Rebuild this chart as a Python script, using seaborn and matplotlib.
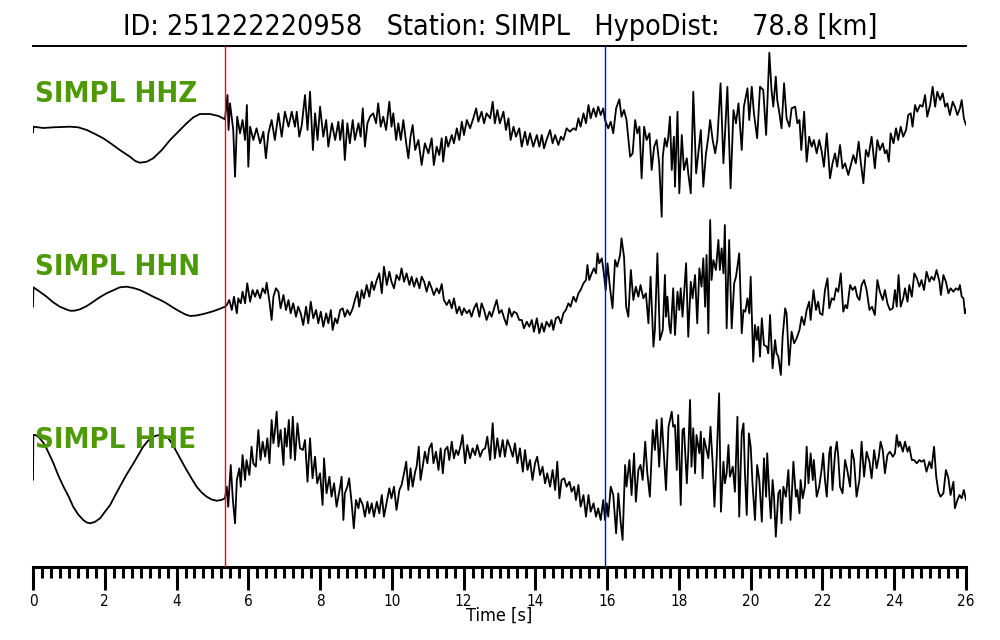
import numpy as np
import pandas as pd
import matplotlib
matplotlib.use("Agg")
import matplotlib.pyplot as plt
from matplotlib.ticker import MultipleLocator
import seaborn as sns

# ---------------- data ----------------
title_text = "ID: 251222220958   Station: SIMPL   HypoDist:    78.8 [km]"
channels = ["SIMPL HHZ", "SIMPL HHN", "SIMPL HHE"]
p_pick = 5.36   # s
s_pick = 15.93  # s
x_max = 26
major_step = 2
minor_step = 0.25

# (time [s], amplitude [arb.])
hhz = [(0.00,-2.7),(0.01,3.3),(0.29,2.0),(0.57,2.7),(1.03,3.3),(1.26,2.7),(1.50,0.0),(1.73,-4.0),(1.96,-8.3),
       (2.19,-14.0),(2.42,-20.0),(2.70,-26.7),(2.85,-31.0),(2.98,-32.7),(3.17,-31.7),(3.35,-28.3),(3.59,-20.0),
       (3.82,-10.0),(4.05,-1.7),(4.28,6.7),(4.47,12.7),(4.65,16.0),(4.93,16.0),(5.17,14.0),(5.35,10.7),
       (5.42,35),(5.45,0),(5.49,26.7),(5.58,0),(5.63,-46.7),(5.69,13.3),(5.77,-3.3),(5.84,10),(5.91,-10),(5.96,25),
       (6.00,-36.7),(6.05,3.3),(6.14,-10),(6.23,1.7),(6.33,-13.3),(6.42,-1.7),(6.49,-28.3),(6.56,-3.3),(6.65,10),
       (6.74,-10),(6.84,16.7),(6.93,-6.7),(7.02,18.3),(7.12,3.3),(7.21,18.3),(7.30,3.3),(7.35,18.3),(7.42,-6.7),
       (7.49,5),(7.58,35),(7.65,0),(7.72,38.3),(7.80,-20),(7.86,16.7),(7.93,-10),(8.00,23.3),(8.09,-6.7),(8.17,10),
       (8.23,-16.7),(8.33,6.7),(8.42,-10),(8.51,8.3),
       (8.56,-10),(8.63,10),(8.69,-30),(8.76,6.7),(8.83,-13.3),(8.91,10),(8.97,-10),(9.07,6.7),(9.13,-6.7),(9.19,21.7),
       (9.25,-16.7),(9.32,6.7),(9.39,13.3),(9.48,16.7),(9.56,6.7),(9.62,26.7),(9.69,3.3),(9.76,13.3),(9.84,0),
       (9.93,28.3),(9.99,3.3),(10.04,16.7),(10.12,-10),(10.18,6.7),(10.25,-10),(10.32,10),(10.40,-13.3),(10.46,-28.3),
       (10.52,-6.7),(10.58,5),(10.65,-20),(10.74,-10),(10.83,-35),(10.92,-13.3),(11.02,-23.3),(11.11,-8.3),
       (11.17,-35),(11.25,-16.7),(11.32,-25),(11.39,-8.3),(11.43,-31.7),(11.51,-6.7),(11.57,-16.7),(11.67,-5),
       (11.73,-13.3),(11.81,1.7),(11.88,-10),(11.95,8.3),(12.01,-5),(12.09,10),(12.18,1.7),(12.27,11.7),(12.35,21.7),
       (12.41,8.3),(12.50,18.3),(12.57,6.7),(12.64,16.7),(12.74,11.7),(12.81,28.3),(12.87,6.7),(12.94,20),(13.01,6.7),
       (13.11,18.3),(13.18,0),(13.25,11.7),(13.31,-10),(13.39,3.3),(13.46,-6.7),(13.55,1.7),(13.62,-16.7),
       (13.71,-1.7),(13.78,-15),(13.85,-3.3),(13.94,-16.7),(14.04,-5),(14.11,-16.7),(14.18,-5),(14.24,-18.3),
       (14.31,-10),(14.41,0),(14.48,-13.3),(14.55,-5),(14.64,-15),(14.71,-6.7),(14.78,-10),(14.87,1.7),(14.96,-1.7),
       (15.06,1.7),(15.13,0),(15.20,11.7),(15.26,3.3),(15.34,16.7),(15.41,6.7),(15.48,25),(15.54,11.7),(15.62,21.7),
       (15.69,13.3),(15.75,23.3),(15.82,15),(15.89,21.7),(15.94,10),(16.03,1.7),(16.10,8.3),(16.17,-3.3),(16.25,21.7),
       (16.34,30.7),(16.40,13.3),(16.47,20),(16.54,10),(16.59,-8.3),(16.64,-26.7),(16.71,-23.3),(16.78,10),
       (16.84,-3.3),(16.90,3.3),(16.96,-48.3),(17.03,3.3),(17.10,-10),(17.18,-3.3),(17.24,-40),(17.31,-16.7),
       (17.38,-10),(17.45,-33.3),(17.52,-86.7),
       (17.55,-26.7),(17.61,-8.3),(17.66,-16.7),(17.70,-8.3),(17.75,13.3),(17.80,-40),(17.86,-6.7),(17.89,-56.7),
       (17.96,18.3),(18.01,-63.3),(18.08,-5),(18.14,-40),(18.22,-28.3),(18.26,-43.3),(18.33,-63.3),(18.40,38.3),
       (18.48,-43.3),(18.54,-23.3),(18.61,0),(18.68,-56.7),(18.75,-25),(18.82,-6.7),(18.87,10),(18.94,-10),
       (19.01,-23.3),(19.07,-10),(19.16,46.7),(19.24,-33.3),(19.28,-6.7),(19.35,43.3),(19.44,-58.3),(19.52,20),
       (19.59,6.7),(19.66,26.7),(19.75,-20),(19.81,23.3),(19.91,41.7),(19.96,10),(20.03,43.3),(20.09,16.7),
       (20.18,-8.3),(20.26,43.3),(20.35,40),(20.43,-5),(20.52,77.3),(20.58,40),(20.63,23.3),(20.70,53.3),(20.74,30),
       (20.80,16.7),(20.86,1.7),(20.93,46.7),(21.00,11.7),(21.08,3.3),(21.14,21.7),(21.24,23.3),(21.30,6.7),
       (21.36,10),(21.41,-20),(21.49,18.3),(21.56,-31.7),(21.63,-6.7),(21.70,-16.7),(21.76,-10),(21.84,-23.3),
       (21.91,-10),(21.98,-21.7),(22.04,-36.7),(22.12,-3.3),(22.21,-48.3),(22.28,-33.3),(22.35,-23.3),(22.41,-36.7),
       (22.49,-15),(22.56,-38.3),(22.63,-33.3),(22.72,-45),(22.79,-35),(22.86,-25),(22.93,-33.3),(23.01,-11.7),
       (23.06,-30),(23.14,-53.3),(23.21,-20),(23.28,-26.7),(23.37,-6.7),(23.46,-38.3),(23.53,-10),(23.60,-20),
       (23.68,-13.3),(23.74,-23.3),(23.79,-20),(23.85,-31.7),(23.90,-3.3),(23.98,-13.3),(24.05,1.7),(24.11,-10),
       (24.18,3.3),(24.25,-6.7),(24.33,0),(24.39,15),(24.46,16.7),(24.51,3.3),(24.58,25),(24.64,18.3),(24.72,25),
       (24.79,23.3),(24.86,35),(24.92,13.3),(25.00,25),(25.07,43.3),(25.14,23.3),(25.20,38.3),(25.28,30),
       (25.35,36.7),(25.42,23.3),(25.48,26.7),(25.55,15),(25.63,28.3),(25.69,23.3),(25.76,15),(25.83,21.7),
       (25.88,30),(25.94,11.7),(26.00,5)]

hhn = [(0.00,-6.7),(0.01,12.7),(0.20,8.0),(0.38,3.3),(0.55,-2.0),(0.75,-6.7),(0.90,-9.0),(1.03,-10.7),(1.15,-10.7),
       (1.31,-9.3),(1.50,-6.0),(1.68,-1.7),(1.85,2.5),(2.05,6.7),(2.25,10.0),(2.42,12.7),(2.61,13.3),(2.80,12.0),
       (2.98,10.0),(3.15,7.0),(3.35,3.3),(3.55,0.0),(3.72,-3.3),(3.90,-7.5),(4.10,-11.7),(4.25,-14.5),(4.38,-16.0),
       (4.55,-15.5),(4.75,-14.0),(4.95,-12.0),(5.12,-10.0),(5.35,-6.7),
       (5.40,-5),(5.47,0),(5.54,-10),(5.60,3.3),(5.68,-13.3),(5.72,1.7),(5.79,-3.3),(5.84,8.3),(5.91,-3.3),
       (5.97,16.7),(6.05,-1.7),(6.12,10),(6.19,3.3),(6.25,10),(6.33,1.7),(6.40,11.7),(6.47,6.7),(6.51,17.3),
       (6.59,-1.7),(6.65,-20),(6.70,3.3),(6.77,11.7),(6.84,8.3),(6.90,-8.3),(6.98,5),(7.05,-10),(7.12,0),(7.18,-13.3),
       (7.25,-3.3),(7.33,-16.7),(7.39,-6.7),(7.46,-13.3),(7.53,-25),(7.61,-6.7),(7.67,-23.3),(7.74,-1.7),(7.81,-18.3),
       (7.89,-10),(7.95,-23.3),(8.02,-11.7),(8.09,-26.7),(8.17,-13.3),(8.23,-23.3),(8.30,-10),(8.35,-30),(8.42,-18.3),
       (8.48,-23.3),
       (8.56,-10),(8.63,-8.3),(8.69,-16.7),(8.76,-10),(8.83,-15),(8.91,-8.3),(8.97,0),(9.04,8.3),(9.09,-6.7),(9.16,10),
       (9.22,1.7),(9.30,15),(9.37,3.3),(9.44,18.3),(9.50,10),(9.58,20),(9.65,26.7),(9.72,6.7),(9.78,33.3),(9.86,15),
       (9.93,28.3),(9.99,18.3),(10.06,11.7),(10.13,25),(10.21,20),(10.27,31.7),(10.34,18.3),(10.41,26.7),(10.49,15),
       (10.55,23.3),(10.62,13.3),(10.69,21.7),(10.77,11.7),(10.83,23.3),(10.90,18.3),(10.97,8.3),(11.04,18.3),
       (11.11,11.7),(11.17,5),(11.25,11.7),(11.32,6.7),(11.39,16),(11.45,0),(11.53,-5),(11.60,0),(11.67,-8.3),
       (11.73,1.7),(11.81,-13.3),(11.88,-6.7),(11.95,-15),(12.01,-8.3),(12.09,-13.3),(12.16,-10),(12.22,-16.7),
       (12.29,-8.3),(12.36,-3.3),(12.44,-16.7),(12.50,-3.3),(12.57,-10),(12.64,-20),(12.72,-11.7),(12.78,-16.7),
       (12.85,-8.3),(12.92,0),(12.99,-13.3),(13.06,-10),(13.13,-18.3),(13.20,-25),(13.27,-8.3),(13.34,-16.7),
       (13.40,-11.7),(13.48,-13.3),(13.55,-20),(13.62,-20),(13.68,-28.3),(13.76,-21.7),(13.83,-26.7),(13.90,-20),
       (13.96,-31.7),(14.04,-18.3),(14.11,-33.3),(14.18,-23.3),(14.24,-31.7),(14.31,-21.7),(14.39,-26.7),(14.45,-20),
       (14.50,-30),(14.57,-18.3),(14.64,-16.7),(14.71,-23.3),(14.78,-13.3),(14.85,-10),(14.92,-3.3),(14.98,-6.7),
       (15.06,3.3),(15.13,-1.7),(15.20,6.7),(15.26,10),(15.34,16.7),(15.41,20),(15.45,35),(15.50,20),(15.57,26.7),
       (15.63,31.7),(15.69,26.7),(15.73,46.7),(15.78,36.7),(15.85,41.7),(15.89,31.7),(15.96,10),(16.01,36.7),
       (16.08,11.7),(16.15,-8.3),(16.22,40),(16.28,33.3),(16.36,45),(16.40,61.7),(16.47,43.3),(16.53,-6.7),
       (16.59,-16.7),(16.66,30),(16.73,0),(16.80,13.3),(16.87,3.3),(16.93,15),(17.01,1.7),(17.08,6.7),(17.15,-23.3),
       (17.21,23.3),(17.29,-46.7),(17.33,-30),(17.40,46.7),(17.47,-40),(17.55,-30),(17.61,25),
       (17.64,-16.7),(17.68,3.3),(17.73,-25),(17.77,-33.3),(17.84,11.7),(17.89,-35),(17.96,8.3),(18.01,-10),
       (18.05,11.7),(18.10,-16.7),(18.14,5),(18.20,36.7),(18.26,-36.7),(18.33,18.3),(18.38,1.7),(18.45,25),
       (18.51,-23.3),(18.57,31.7),(18.63,13.3),(18.68,41.7),(18.73,-6.7),(18.77,45),(18.82,-33.3),(18.87,80),
       (18.91,20),(18.96,40),(19.03,30),(19.10,60),(19.14,30),(19.19,51.7),(19.24,26.7),(19.28,75),(19.33,-28.3),
       (19.40,60),(19.47,-28.3),(19.54,16.7),(19.59,23.3),(19.63,33.3),(19.68,46.7),(19.75,-33.3),(19.80,-10),
       (19.85,-11.7),(19.91,1.7),(19.96,-13.3),(20.00,23.3),(20.07,-61.7),(20.12,-25),(20.17,-40),(20.21,-26.7),
       (20.26,-56.7),(20.31,-18.3),(20.37,-45),(20.45,-46.7),(20.49,-53.3),(20.54,-15),(20.61,-68.3),(20.68,-40),
       (20.72,-53.3),(20.77,-56.7),(20.84,-75),(20.89,-36.7),(20.96,-8.3),(21.00,-13.3),(21.07,-65),(21.14,-31.7),
       (21.21,-43.3),(21.28,-38.3),(21.36,-30),(21.42,-16.7),(21.49,-25),(21.56,-10),(21.63,-1.7),(21.67,-20),
       (21.75,10),(21.82,-10),(21.88,-1.7),(21.93,-13.3),(22.00,-15),(22.07,10),(22.14,21.7),(22.19,-8.3),
       (22.26,1.7),(22.32,0),(22.38,11.7),(22.44,8.3),(22.51,26.7),(22.58,-11.7),(22.64,-5),(22.69,-8.3),
       (22.77,15),(22.84,10),(22.91,13.3),(22.97,3.3),(23.03,0),(23.09,15),(23.16,20),(23.23,10),(23.31,-10),
       (23.38,-6.7),(23.46,-15),(23.53,20),(23.60,8.3),(23.68,0),(23.74,10),(23.81,-3.3),(23.88,-10),(23.96,-8.3),
       (24.02,10),(24.07,-6.7),(24.12,25),(24.18,-6.7),(24.25,1.7),(24.30,11.7),(24.37,-1.7),(24.42,15),(24.49,3.3),
       (24.56,26.7),(24.63,21.7),(24.70,13.3),(24.76,20),(24.83,10),(24.90,28.3),(24.98,18.3),(25.04,23.3),
       (25.11,20),(25.18,30),(25.26,18.3),(25.30,5),(25.37,25),(25.44,18.3),(25.51,6.7),(25.57,11.7),(25.65,8.3),
       (25.72,11.7),(25.79,10),(25.83,15),(25.88,3.3),(25.93,1.7),(25.97,-13.3),(26.00,-9.3)]

hhe = [(0.00,-10),(0.01,35),(0.06,35),(0.12,34),(0.19,31.7),(0.25,29),(0.33,25),(0.45,16),(0.57,6.7),(0.70,-5),
       (0.85,-16.7),(1.00,-27),(1.12,-36.7),(1.25,-44),(1.40,-50),(1.50,-52.5),(1.59,-53.3),(1.72,-52),(1.87,-48.3),
       (2.00,-42),(2.15,-35),(2.28,-26),(2.42,-16.7),(2.60,-5),(2.80,6.7),(2.95,16),(3.07,23.3),(3.20,29),
       (3.35,33.3),(3.45,34.5),(3.54,35),(3.65,34),(3.77,31.7),(3.88,26),(4.00,18.3),(4.14,9),(4.28,0),(4.42,-8.5),
       (4.56,-16.7),(4.70,-22.5),(4.84,-26.7),(4.98,-29.5),(5.12,-30.7),(5.25,-30),(5.35,-28.3),
       (5.40,-16.7),(5.44,-36.7),(5.51,5),(5.57,-30),(5.63,-53.3),(5.68,-10),(5.75,1.7),(5.79,-16.7),(5.84,15),
       (5.91,-10),(5.95,10),(6.03,-5),(6.09,23.3),(6.14,6.7),(6.21,3.3),(6.28,40),(6.34,10),(6.40,28.3),(6.47,13.3),
       (6.53,31.7),(6.59,6.7),(6.65,50),(6.70,26.7),(6.74,38.3),(6.79,58.3),(6.84,23.3),(6.90,40),(6.98,5),(7.02,41.7),
       (7.07,23.3),(7.13,50),(7.18,11.7),(7.24,53.3),(7.30,10),(7.37,46.7),(7.44,21.7),(7.52,20),(7.58,30),
       (7.65,-11.7),(7.72,31.7),(7.79,-8.3),(7.86,13.3),(7.92,-13.3),(8.00,-3.3),(8.07,-35),(8.11,11.7),(8.18,-23.3),
       (8.26,-6.7),(8.32,-26.7),(8.39,-13.3),(8.46,-36.7),
       (8.56,-16.7),(8.60,-6.7),(8.65,-50),(8.69,-23.3),(8.76,-16.7),(8.81,-8.3),(8.88,-33.3),(8.94,-58.3),(9.00,-30),
       (9.07,-38.3),(9.11,-28.3),(9.19,-35),(9.25,-46.7),(9.32,-31.7),(9.37,-43.3),(9.44,-33.3),(9.50,-46.7),
       (9.58,-31.7),(9.65,-43.3),(9.72,-25),(9.78,-46.7),(9.86,-31.7),(9.93,-18.3),(9.99,-28.3),(10.06,-16.7),
       (10.13,-40),(10.21,-20),(10.27,-15),(10.34,-3.3),(10.40,8.3),(10.46,-20),(10.52,1.7),(10.58,-16.7),
       (10.65,-1.7),(10.69,3.3),(10.75,23.3),(10.80,-10),(10.86,3.3),(10.92,18.3),(10.99,6.7),(11.04,21.7),
       (11.11,26.7),(11.16,6.7),(11.23,18.3),(11.30,0),(11.36,21.7),(11.42,-3.3),(11.48,20),(11.55,23.3),(11.60,10),
       (11.67,28.3),(11.73,11.7),(11.79,20),(11.85,15),(11.92,25),(11.97,35),(12.04,6.7),(12.10,25),(12.18,11.7),
       (12.25,21.7),(12.32,15),(12.38,25),(12.46,13.3),(12.53,20),(12.60,21.7),(12.66,33.3),(12.74,10),(12.81,46.7),
       (12.87,11.7),(12.94,31.7),(13.01,13.3),(13.09,30),(13.15,13.3),(13.22,30),(13.29,23.3),(13.37,13.3),
       (13.43,26.7),(13.50,6.7),(13.57,21.7),(13.65,-1.7),(13.71,20),(13.78,0),(13.85,10),(13.92,-10),(13.99,6.7),
       (14.05,13.3),(14.13,-5),(14.20,3.3),(14.27,-13.3),(14.33,-3.3),(14.41,-16.7),(14.48,0),(14.55,-20),(14.61,8.3),
       (14.67,-28.3),(14.73,-10),(14.80,-8.3),(14.87,-16.7),(14.95,-11.7),(15.01,-21.7),(15.08,-16.7),(15.13,-30),
       (15.20,-15),(15.26,-36.7),(15.34,-25),(15.41,-46.7),(15.48,-25),(15.54,-41.7),(15.62,-33.3),(15.69,-46.7),
       (15.75,-38.3),(15.82,-50),(15.89,-30),(15.94,-50),(15.99,-33.3),(16.03,-46.7),(16.10,-16.7),(16.17,-25),
       (16.25,-63.3),(16.31,-23.3),(16.38,-53.3),(16.43,-70),(16.50,5),(16.54,-16.7),(16.62,10),(16.68,-25),
       (16.75,16.7),(16.80,-31.7),(16.87,0),(16.93,5),(16.99,-10),(17.06,28.3),(17.12,-3.3),(17.19,-26.7),(17.27,40),
       (17.33,20),(17.38,50),(17.45,3.3),(17.52,51.7),(17.58,16.7),(17.64,-20),(17.71,43.3),
       (17.80,58.3),(17.84,43.3),(17.89,45),(17.94,0),(17.98,55),(18.05,-35),(18.10,40),(18.14,41.7),(18.22,-13.3),
       (18.26,16.7),(18.31,70),(18.35,3.3),(18.40,41.7),(18.45,-3.3),(18.49,35),(18.57,16.7),(18.61,38.3),
       (18.66,-8.3),(18.70,31.7),(18.75,23.3),(18.82,11.7),(18.88,43.3),(18.94,6.7),(18.99,-36.7),(19.05,10),
       (19.12,76.7),(19.17,-41.7),(19.24,8.3),(19.28,-13.3),(19.33,-3.3),(19.38,25),(19.42,-6.7),(19.50,3.3),
       (19.56,-21.7),(19.63,53.3),(19.68,-46.7),(19.75,36.7),(19.80,46.7),(19.84,-3.3),(19.89,-45),(19.95,36.7),
       (20.00,23.3),(20.05,-13.3),(20.12,-50),(20.18,5),(20.24,-10),(20.31,-51.7),(20.37,11.7),(20.43,-26.7),
       (20.46,16.7),(20.52,-25),(20.56,-48.3),(20.61,-10),(20.65,-26.7),(20.70,-66.7),(20.77,-23.3),(20.82,-20),
       (20.86,-53.3),(20.91,-16.7),(20.98,-26.7),(21.05,0),(21.11,-50),(21.19,8.3),(21.26,-26.7),(21.30,-20),
       (21.36,-43.3),(21.39,-10),(21.45,-28.3),(21.51,-16.7),(21.56,23.3),(21.61,-13.3),(21.67,16.7),(21.73,-10),
       (21.76,10),(21.84,-26.7),(21.91,-16.7),(21.98,1.7),(22.02,16.7),(22.07,-10),(22.12,-26.7),(22.19,16.7),
       (22.23,23.3),(22.28,-20),(22.35,16.7),(22.40,28.3),(22.44,13.3),(22.49,-16.7),(22.56,-23.3),(22.63,10),
       (22.69,0),(22.77,-16.7),(22.82,20),(22.88,10),(22.95,-26.7),(23.03,-10),(23.09,28.3),(23.16,-6.7),(23.23,18.3),
       (23.31,8.3),(23.37,-8.3),(23.44,20),(23.51,1.7),(23.57,13.3),(23.62,28.3),(23.68,20),(23.74,-3.3),(23.81,15),
       (23.88,18.3),(23.96,13.3),(24.02,16.7),(24.07,35),(24.12,23.3),(24.16,28.3),(24.24,18.3),(24.30,28.3),
       (24.37,18.3),(24.42,23.3),(24.49,10),(24.55,10),(24.63,6.7),(24.70,10),(24.76,8.3),(24.83,10),(24.90,-1.7),
       (24.98,8.3),(25.04,1.7),(25.11,23.3),(25.17,-6.7),(25.23,-21.7),(25.29,-26.7),(25.37,-23.3),(25.44,0),
       (25.51,-8.3),(25.57,-25),(25.65,-11.7),(25.69,-38.3),(25.76,-30),(25.82,-25),(25.88,-28.3),(25.94,-20),
       (26.00,-30)]

traces = [hhz, hhn, hhe]

# ---------------- layout / style ----------------
baselines = [437, 267, 97]          # vertical offset of each trace (axes units)
label_y = [465, 292, 119]           # baseline of channel labels
green = "#4e9a06"

sns.set_style("white")
plt.rcParams['font.family'] = ['DejaVu Sans']
plt.rcParams['text.color'] = 'black'
plt.rcParams['axes.labelcolor'] = 'black'
plt.rcParams['xtick.color'] = 'black'

rows = []
for name, tr, off in zip(channels, traces, baselines):
    for i, (t, a) in enumerate(tr):
        rows.append((name, i, t, a + off))
df = pd.DataFrame(rows, columns=["channel", "idx", "time", "y"])

fig = plt.figure(figsize=(10, 6.4), dpi=100)
ax = fig.add_axes([0.033, 0.11406, 0.933, 0.81406])

for name in channels:
    sns.lineplot(data=df[df["channel"] == name], x="time", y="y", color="black",
                 lw=1.3, sort=False, estimator=None, ax=ax, legend=False)

ax.axvline(p_pick, color="red", lw=1.0, zorder=3)
ax.axvline(s_pick, color="blue", lw=1.0, zorder=3)

for name, ly in zip(channels, label_y):
    ax.text(0.05, ly, name, color=green, fontsize=21, fontweight="bold",
            fontstretch="condensed", ha="left", va="baseline")

ax.set_xlim(0, x_max)
ax.set_ylim(0, 521)
ax.set_yticks([])
ax.set_ylabel("")
ax.xaxis.set_major_locator(MultipleLocator(major_step))
ax.xaxis.set_minor_locator(MultipleLocator(minor_step))
ax.tick_params(axis="x", which="major", direction="out", length=16.5, width=2.2,
               labelsize=11, pad=3, bottom=True, color="black", labelcolor="black")
ax.tick_params(axis="x", which="minor", direction="out", length=8, width=2.2, bottom=True, color="black")
for lab in ax.get_xticklabels():
    lab.set_fontstretch("condensed")

for s in ["left", "right"]:
    ax.spines[s].set_visible(False)
ax.spines["top"].set_linewidth(1.4)
ax.spines["bottom"].set_linewidth(2.2)
ax.spines["top"].set_color("black")
ax.spines["bottom"].set_color("black")

ax.set_xlabel("Time [s]", fontsize=13, fontstretch="condensed", color="black")
ax.xaxis.set_label_coords(0.5, -0.076)

fig.text(0.5, 1 - 27 / 640, title_text, ha="center", va="center", fontsize=20.5,
         fontstretch="condensed", color="black")

fig.savefig("out.png", dpi=100, facecolor="white")
